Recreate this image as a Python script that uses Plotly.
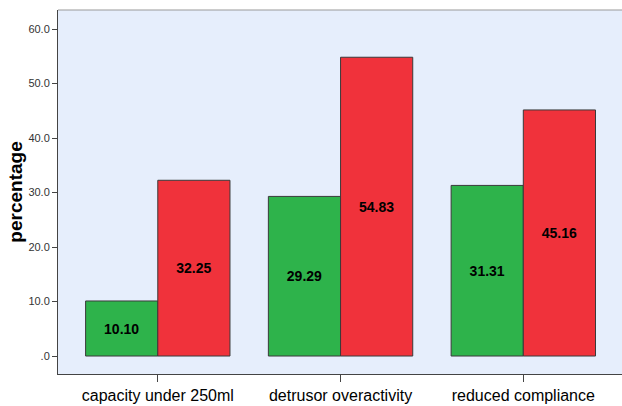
import plotly.graph_objects as go

categories = ["capacity under 250ml", "detrusor overactivity", "reduced compliance"]
group_a = [10.10, 29.29, 31.31]
group_b = [32.25, 54.83, 45.16]
y_ticks = [0, 10, 20, 30, 40, 50, 60]
y_tick_labels = [".0", "10.0", "20.0", "30.0", "40.0", "50.0", "60.0"]

label_font = dict(family="Liberation Sans, Arial", size=14, color="black")

fig = go.Figure()
fig.add_trace(go.Bar(
    x=categories, y=group_a, text=[f"<b>{v:.2f}</b>" for v in group_a],
    textposition="inside", insidetextanchor="middle", textfont=label_font,
    marker=dict(color="#2eb34b", line=dict(color="#3a3a3a", width=1)),
    showlegend=False, hoverinfo="skip",
))
fig.add_trace(go.Bar(
    x=categories, y=group_b, text=[f"<b>{v:.2f}</b>" for v in group_b],
    textposition="inside", insidetextanchor="middle", textfont=label_font,
    marker=dict(color="#f0323b", line=dict(color="#3a3a3a", width=1)),
    showlegend=False, hoverinfo="skip",
))

fig.update_layout(
    width=622, height=406,
    margin=dict(l=58, r=0, t=10, b=32, autoexpand=False),
    paper_bgcolor="white", plot_bgcolor="#e6eefc",
    barmode="group", bargap=0.21, bargroupgap=0,
    uniformtext=dict(mode="show", minsize=8),
    font=dict(family="Liberation Sans, Arial", color="black"),
    xaxis=dict(
        range=[-0.546, 2.54], showgrid=False, showline=True, linecolor="#444", linewidth=1,
        ticks="outside", ticklen=7, tickcolor="#444", automargin=False,
        tickfont=dict(size=16, color="black"),
    ),
    yaxis=dict(
        range=[-3.3, 63.5], tickvals=y_ticks, ticktext=y_tick_labels,
        showgrid=False, zeroline=False, showline=True, linecolor="#444", linewidth=1,
        ticks="outside", ticklen=5, tickcolor="#444", automargin=False,
        tickfont=dict(size=11, color="#333"),
        title=dict(text="<b>percentage</b>", font=dict(size=19, color="black"), standoff=0),
    ),
    shapes=[dict(type="line", xref="paper", yref="paper", x0=0, x1=1, y0=1, y1=1,
                 line=dict(color="#999", width=1))],
)

fig.write_html("out.html", config={"displayModeBar": False},
               post_script="document.body.style.margin='0';document.body.style.overflow='hidden';")
